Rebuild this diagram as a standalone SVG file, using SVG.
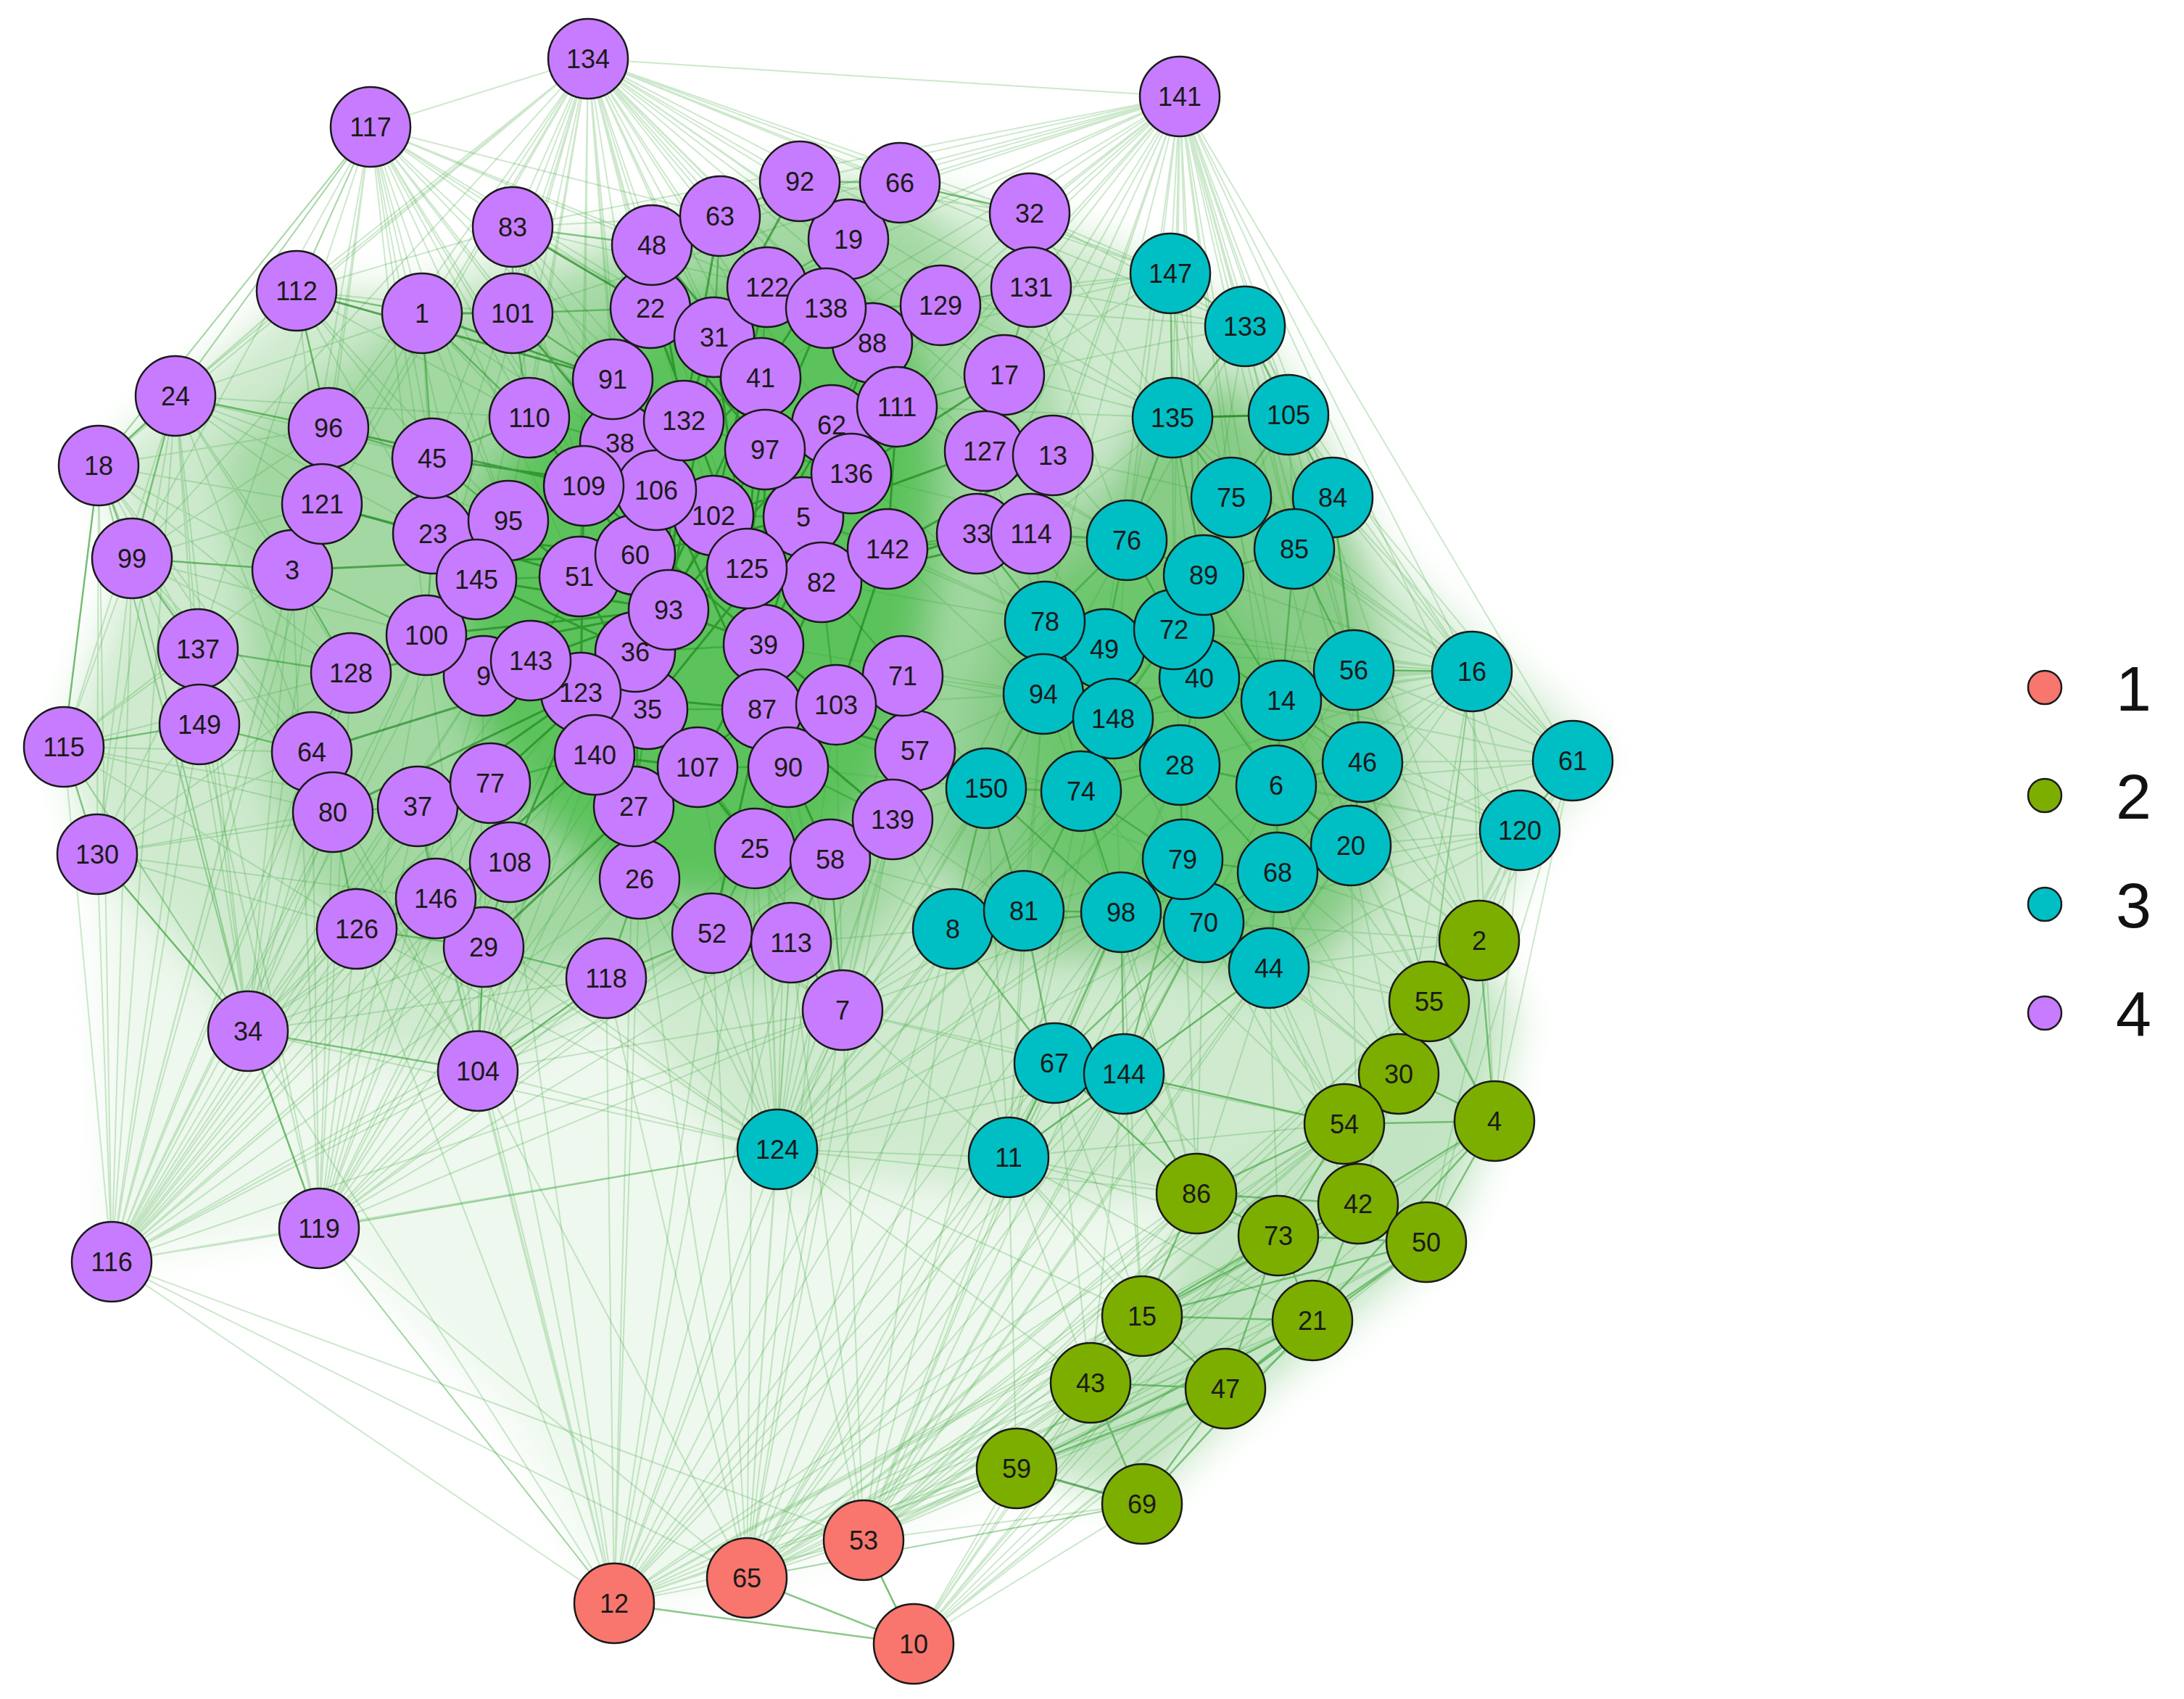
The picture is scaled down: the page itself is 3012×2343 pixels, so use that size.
<svg xmlns="http://www.w3.org/2000/svg" width="3012" height="2343" viewBox="0 0 3012 2343">
<defs>
<filter id="soft" x="-10%" y="-10%" width="120%" height="120%"><feGaussianBlur stdDeviation="28"/></filter>
</defs>
<style>
.bg{fill:#ffffff}
.hz{stroke:none}
.e1{fill:none;stroke:#3ea83e;stroke-opacity:.26;stroke-width:2}
.e2{fill:none;stroke:#2a9a2a;stroke-opacity:.55;stroke-width:2.5}
.e3{fill:none;stroke:#137f13;stroke-opacity:.6;stroke-width:3}
.n circle{stroke:#1a1a1a;stroke-width:2.5}
.n text{font-family:"Liberation Sans",Arial,sans-serif;font-size:36px;fill:#1a1a1a;text-anchor:middle}
.c1 circle{fill:#F8766D}
.c2 circle{fill:#7CAE00}
.c3 circle{fill:#00BFC4}
.c4 circle{fill:#C77CFF}
.lg circle{stroke:#1a1a1a;stroke-width:2.5}
.lg text{font-family:"Liberation Sans",Arial,sans-serif;font-size:88px;fill:#111}
</style>
<rect class="bg" x="0" y="0" width="3012" height="2343"/>
<g id="connectors">
<g id="edge-haze" filter="url(#soft)">
<polygon class="hz" fill="#eef8ee" points="154,1740 440,1694 700,1950 847,2211 1030,2176 1191,2124 1402,2025 1504,1907 1575,1815 1650,1646 1391,1596 1072,1585 836,1349 659,1477 342,1422 134,1178"/>
<polygon class="hz" fill="#cfeacf" points="136,642 242,546 409,401 582,400 707,340 899,320 993,290 1103,260 1241,262 1420,300 1614,370 1717,440 1777,520 1838,640 1900,760 2030,880 2169,1000 2210,1049 2150,1110 2096,1200 2040,1297 1971,1381 1929,1481 1854,1550 1650,1646 1391,1650 1200,1620 1072,1640 900,1450 836,1380 659,1477 342,1422 134,1178 88,1030 182,770"/>
<polygon class="hz" fill="#a3d8a3" points="300,620 420,540 560,440 700,420 830,360 980,290 1120,250 1260,270 1330,360 1440,470 1480,650 1470,850 1420,1000 1330,1150 1250,1250 1150,1350 1000,1340 850,1330 700,1340 560,1310 440,1250 380,1120 340,960 330,800"/>
<polygon class="hz" fill="#5cc25c" points="830,480 930,420 1050,380 1180,400 1270,480 1300,620 1290,800 1270,960 1220,1100 1120,1220 980,1250 850,1220 740,1130 650,1000 620,840 650,700 740,570"/>
<polygon class="hz" fill="#88cc88" points="1400,790 1500,700 1590,560 1700,520 1820,640 1880,780 1920,950 1930,1120 1880,1260 1780,1360 1650,1330 1500,1320 1340,1310 1300,1150 1330,950"/>
<polygon class="hz" fill="#6cc66c" points="1420,830 1520,760 1640,760 1720,880 1800,950 1840,1080 1800,1230 1700,1290 1560,1260 1430,1200 1400,1000"/>
<polygon class="hz" fill="#c2e4c2" points="2040,1297 2090,1400 2061,1546 1990,1713 1810,1860 1690,1960 1575,2074 1402,2025 1504,1907 1575,1815 1650,1646 1854,1550 1929,1481 1971,1381"/>
</g>
<path class="e1" d="M811 81L511 175M811 81L707 313M811 81L409 401M811 81L582 432M811 81L707 432M811 81L899 338M811 81L993 298M811 81L1103 250M811 81L1241 252M811 81L1170 330M811 81L897 425M811 81L1058 396M811 81L985 465M811 81L845 523M811 81L730 576M811 81L453 590M811 81L596 632M811 81L242 546M811 81L444 695M811 81L597 736M811 81L701 718M811 81L805 670M811 81L855 611M811 81L943 580M811 81L1049 521M811 81L1139 425M811 81L1203 473M811 81L1297 421M811 81L1420 294M811 81L1422 396M811 81L1627 133M811 81L1614 377M811 81L1385 517M811 81L1237 561M811 81L1147 586M811 81L1055 620M811 81L905 676M811 81L876 765M811 81L799 795M811 81L657 799M811 81L403 786M811 81L136 642M811 81L182 770M811 81L984 711M811 81L1717 450M811 81L1358 622M811 81L1452 628M811 81L1174 653M811 81L1108 713M811 81L1030 784M811 81L588 876M811 81L1617 576"/>
<path class="e1" d="M511 175L707 313M511 175L409 401M511 175L582 432M511 175L707 432M511 175L899 338M511 175L897 425M511 175L845 523M511 175L730 576M511 175L453 590M511 175L596 632M511 175L242 546M511 175L136 642M511 175L444 695M511 175L597 736M511 175L701 718M511 175L403 786M511 175L993 298M511 175L1058 396M511 175L985 465M511 175L855 611M511 175L805 670M511 175L943 580M511 175L182 770M511 175L657 799M511 175L588 876M511 175L799 795M511 175L876 765M511 175L273 895"/>
<path class="e1" d="M1627 133L1103 250M1627 133L1241 252M1627 133L1170 330M1627 133L1420 294M1627 133L1422 396M1627 133L1614 377M1627 133L1717 450M1627 133L1617 576M1627 133L1777 572M1627 133L1838 686M1627 133L1698 686M1627 133L1785 757M1627 133L2030 926M1627 133L2169 1049M1627 133L2096 1145M1627 133L1297 421M1627 133L1385 517M1627 133L1203 473M1627 133L1058 396M1627 133L993 298M1627 133L899 338M1627 133L1452 628M1627 133L1358 622M1627 133L1554 745M1627 133L1867 924M1627 133L1879 1051M1627 133L1767 966M1627 133L1139 425M1627 133L1237 561M1627 133L1422 736M1627 133L1347 736M1627 133L1660 793M1627 133L1619 868M1627 133L1654 935M1627 133L2040 1297M1627 133L1971 1381M1627 133L1147 586M1627 133L1174 653M1627 133L707 313M1627 133L707 432M1627 133L1863 1166M1627 133L1760 1083M1627 133L1441 857M1627 133L1523 895M1627 133L1049 521"/>
<path class="e1" d="M154 1740L88 1030M154 1740L134 1178M154 1740L342 1422M154 1740L440 1694M154 1740L136 642M154 1740L182 770M154 1740L273 895M154 1740L275 999M154 1740L242 546M154 1740L430 1037M154 1740L459 1120M154 1740L492 1281M154 1740L601 1239M154 1740L667 1306M154 1740L659 1477M154 1740L576 1112M154 1740L484 928M154 1740L403 786M154 1740L444 695M154 1740L588 876M154 1740L667 932M154 1740L657 799M154 1740L847 2211M154 1740L1030 2176M154 1740L676 1080M154 1740L703 1189M154 1740L836 1349M154 1740L882 1212M154 1740L982 1287M154 1740L820 1041M154 1740L874 1112M154 1740L1072 1585M154 1740L453 590M154 1740L732 911M154 1740L801 955M154 1740L1191 2124M154 1740L1162 1393"/>
<path class="e1" d="M440 1694L342 1422M440 1694L659 1477M440 1694L836 1349M440 1694L667 1306M440 1694L492 1281M440 1694L601 1239M440 1694L576 1112M440 1694L459 1120M440 1694L430 1037M440 1694L484 928M440 1694L275 999M440 1694L273 895M440 1694L667 932M440 1694L588 876M440 1694L676 1080M440 1694L703 1189M440 1694L403 786M440 1694L882 1212M440 1694L874 1112M440 1694L820 1041M440 1694L982 1287M440 1694L1091 1300M440 1694L1162 1393M440 1694L1072 1585M440 1694L847 2211M440 1694L1030 2176M440 1694L893 978M440 1694L801 955M440 1694L1041 1170M440 1694L1145 1185"/>
<path class="e1" d="M342 1422L134 1178M342 1422L88 1030M342 1422L275 999M342 1422L273 895M342 1422L182 770M342 1422L242 546M342 1422L136 642M342 1422L430 1037M342 1422L459 1120M342 1422L492 1281M342 1422L601 1239M342 1422L484 928M342 1422L403 786M342 1422L444 695M342 1422L667 1306M342 1422L576 1112M342 1422L588 876M342 1422L667 932M342 1422L676 1080M342 1422L703 1189M342 1422L836 1349"/>
<path class="e1" d="M847 2211L1191 2124M847 2211L1402 2025M847 2211L1504 1907M847 2211L1575 1815M847 2211L1575 2074M847 2211L1650 1646M847 2211L1690 1915M847 2211L1810 1821M847 2211L659 1477M847 2211L836 1349M847 2211L667 1306M847 2211L492 1281M847 2211L601 1239M847 2211L1072 1585M847 2211L342 1422M847 2211L440 1694M847 2211L982 1287M847 2211L882 1212M847 2211L1091 1300M847 2211L1162 1393M847 2211L1391 1596M847 2211L1454 1466M847 2211L1550 1481M847 2211L1314 1281M847 2211L1412 1256M847 2211L1546 1258M847 2211L1763 1704M847 2211L1854 1550M847 2211L1873 1660M847 2211L703 1189M847 2211L576 1112M847 2211L874 1112M847 2211L1041 1170"/>
<path class="e1" d="M1030 2176L1191 2124M1030 2176L1402 2025M1030 2176L1504 1907M1030 2176L1575 1815M1030 2176L1650 1646M1030 2176L1575 2074M1030 2176L1690 1915M1030 2176L1810 1821M1030 2176L1763 1704M1030 2176L1873 1660M1030 2176L1854 1550M1030 2176L1929 1481M1030 2176L836 1349M1030 2176L1162 1393M1030 2176L982 1287M1030 2176L1091 1300M1030 2176L882 1212M1030 2176L659 1477M1030 2176L1072 1585M1030 2176L1391 1596M1030 2176L1454 1466M1030 2176L1550 1481M1030 2176L1314 1281M1030 2176L1412 1256M1030 2176L1546 1258M1030 2176L1660 1272M1030 2176L1750 1335M1030 2176L1145 1185M1030 2176L1041 1170M1030 2176L1231 1130M1030 2176L1967 1713M1030 2176L1971 1381"/>
<path class="e1" d="M1191 2124L1260 2267M1191 2124L1402 2025M1191 2124L1575 2074M1191 2124L1504 1907M1191 2124L1575 1815M1191 2124L1650 1646M1191 2124L1690 1915M1191 2124L1810 1821M1191 2124L1763 1704M1191 2124L1873 1660M1191 2124L1967 1713M1191 2124L1854 1550M1191 2124L1929 1481M1191 2124L1971 1381M1191 2124L2040 1297M1191 2124L2061 1546M1191 2124L1072 1585M1191 2124L1391 1596M1191 2124L1454 1466M1191 2124L1550 1481M1191 2124L1546 1258M1191 2124L1660 1272M1191 2124L1750 1335M1191 2124L1631 1185M1191 2124L1762 1203M1191 2124L1863 1166M1191 2124L1162 1393M1191 2124L1091 1300M1191 2124L1412 1256M1191 2124L1314 1281"/>
<path class="e1" d="M1260 2267L1575 2074M1260 2267L1690 1915M1260 2267L1810 1821M1260 2267L1967 1713M1260 2267L2061 1546M1260 2267L1402 2025M1260 2267L1504 1907M1260 2267L1575 1815M1260 2267L1763 1704M1260 2267L1873 1660M1260 2267L1854 1550M1260 2267L1929 1481M1260 2267L1650 1646"/>
<path class="e1" d="M1072 1585L1162 1393M1072 1585L1091 1300M1072 1585L982 1287M1072 1585L1145 1185M1072 1585L1041 1170M1072 1585L1231 1130M1072 1585L1262 1035M1072 1585L1087 1058M1072 1585L836 1349M1072 1585L882 1212M1072 1585L659 1477M1072 1585L1314 1281M1072 1585L1412 1256M1072 1585L1360 1087M1072 1585L1391 1596M1072 1585L1454 1466M1072 1585L1550 1481M1072 1585L1546 1258M1072 1585L1491 1091M1072 1585L342 1422M1072 1585L440 1694M1072 1585L492 1281M1072 1585L667 1306M1072 1585L601 1239M1072 1585L962 1058M1072 1585L874 1112M1072 1585L1051 978M1072 1585L1153 972M1072 1585L1245 932M1072 1585L1053 889M1072 1585L1439 957M1072 1585L1441 857M1072 1585L1535 991M1072 1585L1627 1055M1072 1585L1631 1185M1072 1585L1660 1272M1072 1585L1650 1646M1072 1585L1575 1815M1072 1585L1504 1907"/>
<path class="e1" d="M659 1477L667 1306M659 1477L601 1239M659 1477L492 1281M659 1477L703 1189M659 1477L676 1080M659 1477L576 1112M659 1477L836 1349M659 1477L882 1212M659 1477L874 1112M659 1477L820 1041M659 1477L1162 1393M659 1477L982 1287M659 1477L1091 1300M659 1477L667 932M659 1477L588 876M659 1477L801 955M659 1477L893 978M659 1477L459 1120M659 1477L430 1037"/>
<path class="e1" d="M1391 1596L1454 1466M1391 1596L1550 1481M1391 1596L1314 1281M1391 1596L1412 1256M1391 1596L1546 1258M1391 1596L1650 1646M1391 1596L1575 1815M1391 1596L1504 1907M1391 1596L1854 1550M1391 1596L1763 1704M1391 1596L1810 1821M1391 1596L1660 1272M1391 1596L1631 1185M1391 1596L1750 1335M1391 1596L1491 1091M1391 1596L1360 1087M1391 1596L1439 957M1391 1596L1535 991M1391 1596L1627 1055M1391 1596L1162 1393M1391 1596L1402 2025M1391 1596L1690 1915"/>
<path class="e1" d="M1162 1393L1091 1300M1162 1393L1145 1185M1162 1393L1041 1170M1162 1393L1231 1130M1162 1393L1262 1035M1162 1393L982 1287M1162 1393L882 1212M1162 1393L1087 1058M1162 1393L1314 1281M1162 1393L1412 1256M1162 1393L1360 1087M1162 1393L1454 1466M1162 1393L1550 1481M1162 1393L1546 1258M1162 1393L1491 1091M1162 1393L1153 972M1162 1393L1245 932M1162 1393L1051 978M1162 1393L1053 889M1162 1393L962 1058"/>
<path class="e1" d="M2040 1297L2096 1145M2040 1297L2169 1049M2040 1297L2030 926M2040 1297L1863 1166M2040 1297L1879 1051M2040 1297L1750 1335M2040 1297L1762 1203M2040 1297L1760 1083M2040 1297L1767 966M2040 1297L1867 924M2040 1297L1660 1272M1971 1381L2096 1145M1971 1381L2169 1049M1971 1381L2030 926M1971 1381L1863 1166M1971 1381L1879 1051M1971 1381L1750 1335M1971 1381L1762 1203M1971 1381L1760 1083M1971 1381L1660 1272M1929 1481L1750 1335M1929 1481L1762 1203M1929 1481L1863 1166M1929 1481L2096 1145M1929 1481L2030 926M1929 1481L1660 1272M1929 1481L1631 1185M1929 1481L1873 1660M2061 1546L2169 1049M2061 1546L2096 1145M2061 1546L2030 926M2061 1546L1863 1166M1854 1550L1750 1335M1854 1550L1660 1272M1854 1550L1762 1203M1854 1550L1631 1185M1854 1550L1546 1258M1854 1550L1550 1481M1854 1550L1454 1466M1650 1646L1454 1466M1650 1646L1550 1481M1650 1646L1546 1258M1650 1646L1660 1272M1650 1646L1631 1185M1650 1646L1627 1055M1650 1646L1491 1091M1650 1646L1750 1335M1967 1713L2169 1049M1967 1713L2096 1145M1873 1660L1750 1335M1873 1660L1660 1272M1873 1660L1863 1166M1763 1704L1750 1335M1763 1704L1550 1481M1575 1815L1454 1466M1575 1815L1550 1481M1575 1815L1546 1258M1504 1907L1454 1466M1504 1907L1550 1481"/>
<path class="e1" d="M2030 926L2169 1049M2030 926L2096 1145M2030 926L1867 924M2030 926L1879 1051M2030 926L1767 966M2030 926L1863 1166M2030 926L1760 1083M2030 926L1785 757M2030 926L1838 686M2030 926L1971 1381M2030 926L1654 935M2030 926L1619 868M2030 926L1660 793M2030 926L1627 1055M2030 926L1762 1203M2030 926L1777 572M2030 926L1698 686M2030 926L1717 450M2030 926L1617 576M2030 926L1535 991M2030 926L1439 957M2030 926L1441 857M2030 926L1523 895M2169 1049L1838 686M2169 1049L1867 924M2169 1049L1879 1051M2169 1049L1863 1166M2169 1049L1760 1083M2169 1049L1767 966M2169 1049L1785 757M2169 1049L1777 572M2096 1145L1867 924M2096 1145L1879 1051M2096 1145L1863 1166M2096 1145L1760 1083M2096 1145L1767 966M2096 1145L1762 1203M2096 1145L1750 1335M2096 1145L1660 1272M2096 1145L1627 1055"/>
<path class="e1" d="M1422 736L1554 745M1422 736L1441 857M1422 736L1617 576M1422 736L1660 793M1422 736L1523 895M1347 736L1441 857M1347 736L1439 957M1347 736L1554 745M1452 628L1617 576M1452 628L1554 745M1452 628L1698 686M1358 622L1554 745M1358 622L1441 857M1385 517L1614 377M1385 517L1617 576M1385 517L1717 450M1422 396L1614 377M1422 396L1717 450M1420 294L1614 377M1297 421L1614 377M1297 421L1617 576M1224 757L1441 857M1224 757L1439 957M1224 757L1554 745M1133 803L1441 857M1245 932L1439 957M1245 932L1441 857M1245 932L1535 991M1245 932L1360 1087M1262 1035L1360 1087M1262 1035L1439 957M1262 1035L1491 1091M1231 1130L1360 1087M1231 1130L1314 1281M1231 1130L1412 1256M1153 972L1439 957M1153 972L1360 1087M1174 653L1441 857M1174 653L1554 745M1108 713L1441 857M1237 561L1617 576M1237 561L1554 745M1145 1185L1314 1281M1145 1185L1412 1256M1091 1300L1314 1281M1087 1058L1360 1087M1051 978L1360 1087M1053 889L1439 957M1203 473L1614 377M1241 252L1614 377M1241 252L1420 294M1103 250L1420 294M1420 294L1717 450M1420 294L1617 576M1422 396L1617 576M1422 396L1554 745M1297 421L1717 450"/>
<path class="e1" d="M136 642L88 1030M136 642L134 1178M182 770L88 1030M182 770L134 1178M242 546L134 1178M242 546L88 1030M273 895L134 1178M275 999L134 1178M88 1030L342 1422M136 642L342 1422M182 770L342 1422M242 546L409 401M242 546L511 175M136 642L511 175M409 401L511 175M409 401L707 313M136 642L409 401M242 546L453 590M242 546L444 695M242 546L403 786M242 546L596 632M242 546L597 736M242 546L582 432M242 546L730 576M242 546L701 718M242 546L273 895M242 546L484 928M242 546L430 1037M242 546L275 999M136 642L403 786M136 642L444 695M136 642L273 895M136 642L275 999M136 642L453 590M136 642L484 928M136 642L430 1037M136 642L459 1120M182 770L403 786M182 770L484 928M182 770L430 1037M182 770L459 1120M182 770L444 695M182 770L453 590M182 770L588 876M88 1030L273 895M88 1030L403 786M88 1030L484 928M88 1030L430 1037M88 1030L459 1120M88 1030L576 1112M88 1030L492 1281M134 1178L430 1037M134 1178L459 1120M134 1178L492 1281M134 1178L601 1239M134 1178L484 928M134 1178L576 1112M409 401L453 590M409 401L444 695M409 401L596 632M409 401L730 576M409 401L707 432M409 401L845 523M409 401L597 736M409 401L701 718M707 313L897 425M707 313L845 523M707 313L730 576M707 313L943 580M707 313L985 465M707 313L993 298M707 313L1058 396M707 313L855 611M707 313L805 670M582 432L453 590M582 432L444 695M582 432L597 736M582 432L701 718M582 432L805 670M582 432L855 611"/>
<path class="e1" d="M1614 377L1660 793M1614 377L1554 745M1614 377L1698 686M1717 450L1838 686M1717 450L1785 757M1717 450L1660 793M1717 450L1554 745M1617 576L1785 757M1617 576L1619 868M1617 576L1654 935M1777 572L1785 757M1777 572L1660 793M1777 572L1867 924M1838 686L1767 966M1838 686L1879 1051M1698 686L1619 868M1698 686L1767 966M1554 745L1439 957M1554 745L1535 991M1554 745L1654 935M1660 793L1535 991M1660 793L1627 1055M1441 857L1491 1091M1441 857L1360 1087M1441 857L1627 1055M1619 868L1627 1055M1619 868L1760 1083M1523 895L1491 1091M1523 895L1654 935M1523 895L1627 1055M1439 957L1491 1091M1439 957L1412 1256M1439 957L1314 1281M1535 991L1631 1185M1535 991L1546 1258M1654 935L1631 1185M1654 935L1879 1051M1767 966L1863 1166M1767 966L1762 1203M1867 924L1863 1166M1867 924L1760 1083M1879 1051L1762 1203M1760 1083L1631 1185M1760 1083L1660 1272M1760 1083L1750 1335M1627 1055L1660 1272M1627 1055L1546 1258M1627 1055L1412 1256M1863 1166L1750 1335M1863 1166L1660 1272M1631 1185L1750 1335M1491 1091L1314 1281M1491 1091L1660 1272M1360 1087L1631 1185M1360 1087L1627 1055M1412 1256L1631 1185M1546 1258L1762 1203M1314 1281L1491 1091"/>
<path class="e2" d="M847 2211L1260 2267M1030 2176L1260 2267M1191 2124L1260 2267M342 1422L659 1477M440 1694L342 1422"/>
<path class="e2" d="M1614 377L1717 450M1614 377L1617 576M1717 450L1617 576M1717 450L1777 572M1617 576L1777 572M1617 576L1698 686M1617 576L1554 745M1617 576L1660 793M1777 572L1838 686M1777 572L1698 686M1698 686L1785 757M1698 686L1660 793M1838 686L1785 757M1785 757L1660 793M1554 745L1660 793M1554 745L1441 857M1554 745L1619 868M1554 745L1523 895M1660 793L1619 868M1619 868L1523 895M1619 868L1654 935M1523 895L1441 857M1523 895L1439 957M1523 895L1535 991M1441 857L1439 957M1439 957L1535 991M1439 957L1360 1087M1535 991L1491 1091M1535 991L1627 1055M1535 991L1654 935M1654 935L1767 966M1654 935L1627 1055M1767 966L1867 924M1767 966L1760 1083M1767 966L1879 1051M1867 924L1879 1051M1879 1051L1760 1083M1879 1051L1863 1166M1760 1083L1627 1055M1760 1083L1762 1203M1760 1083L1863 1166M1627 1055L1631 1185M1627 1055L1491 1091M1631 1185L1762 1203M1631 1185L1660 1272M1762 1203L1660 1272M1762 1203L1863 1166M1762 1203L1750 1335M1660 1272L1750 1335M1660 1272L1546 1258M1546 1258L1412 1256M1412 1256L1314 1281M1412 1256L1360 1087M1314 1281L1360 1087M1491 1091L1360 1087M1491 1091L1412 1256M1491 1091L1546 1258M1631 1185L1546 1258M1454 1466L1412 1256M1550 1481L1546 1258M1550 1481L1660 1272M1454 1466L1314 1281M1391 1596L1454 1466M1391 1596L1550 1481M1785 757L1767 966M1660 793L1654 935M1441 857L1535 991M1619 868L1535 991M1654 935L1760 1083M1867 924L2030 926M1554 745L1422 736M1441 857L1347 736M2169 1049L2096 1145M1838 686L1867 924M1785 757L1867 924M1660 793L1767 966M1619 868L1767 966M1627 1055L1762 1203M1491 1091L1631 1185M1360 1087L1546 1258M1314 1281L1546 1258M1454 1466L1546 1258M1550 1481L1631 1185M1550 1481L1750 1335M1454 1466L1660 1272M1550 1481L1650 1646M1550 1481L1854 1550M1454 1466L1650 1646"/>
<path class="e3" d="M1454 1466L1550 1481M1402 2025L1575 2074M582 432L707 432M1617 576L1777 572"/>
<path class="e2" d="M2040 1297L1971 1381M1971 1381L1929 1481M1929 1481L1854 1550M1929 1481L2061 1546M1854 1550L2061 1546M1854 1550L1873 1660M1873 1660L2061 1546M1873 1660L1967 1713M2061 1546L1967 1713M1873 1660L1763 1704M1763 1704L1967 1713M1763 1704L1810 1821M1967 1713L1810 1821M1650 1646L1763 1704M1650 1646L1575 1815M1575 1815L1810 1821M1575 1815L1504 1907M1575 1815L1690 1915M1810 1821L1690 1915M1504 1907L1690 1915M1504 1907L1402 2025M1690 1915L1575 2074M1504 1907L1575 2074M1650 1646L1854 1550M1650 1646L1873 1660M1810 1821L1873 1660M1763 1704L1575 1815M1763 1704L1690 1915M1971 1381L1854 1550M1971 1381L2061 1546M2040 1297L2061 1546M2040 1297L1929 1481M1810 1821L1575 2074M1967 1713L1690 1915M1854 1550L1763 1704M2061 1546L1810 1821M1967 1713L1575 1815M1873 1660L1575 1815M1402 2025L1690 1915M1402 2025L1810 1821"/>
<path class="e2" d="M707 313L707 432M707 313L899 338M707 432L897 425M707 432L845 523M707 432L730 576M582 432L596 632M582 432L730 576M409 401L453 590M409 401L582 432M242 546L136 642M242 546L182 770M242 546L453 590M136 642L182 770M182 770L273 895M182 770L403 786M273 895L275 999M273 895L484 928M275 999L430 1037M275 999L88 1030M88 1030L134 1178M88 1030L136 642M134 1178L342 1422M453 590L444 695M453 590L596 632M444 695L403 786M444 695L597 736M403 786L484 928M403 786L588 876M596 632L597 736M596 632L730 576M596 632L701 718M597 736L701 718M597 736L657 799M597 736L588 876M701 718L657 799M701 718L805 670M657 799L799 795M657 799L588 876M588 876L667 932M588 876L484 928M667 932L732 911M667 932L801 955M484 928L430 1037M430 1037L459 1120M459 1120L576 1112M459 1120L492 1281M576 1112L676 1080M576 1112L601 1239M676 1080L703 1189M676 1080L820 1041M703 1189L601 1239M703 1189L667 1306M601 1239L492 1281M601 1239L667 1306M492 1281L667 1306M667 1306L836 1349M836 1349L882 1212M882 1212L874 1112M882 1212L982 1287M982 1287L1091 1300M1091 1300L1145 1185M1145 1185L1041 1170M1041 1170L1087 1058M1145 1185L1231 1130M1231 1130L1262 1035M1262 1035L1245 932M1245 932L1153 972M1153 972L1087 1058M1087 1058L962 1058M962 1058L874 1112M874 1112L820 1041M820 1041L801 955M801 955L893 978M893 978L876 899M893 978L962 1058M876 899L922 841M876 899L1053 889M922 841L876 765M876 765L799 795M799 795L805 670M799 795L732 911M805 670L905 676M805 670L855 611M855 611L730 576M855 611L845 523M845 523L897 425M845 523L943 580M897 425L899 338M897 425L985 465M899 338L993 298M993 298L1103 250M993 298L985 465M993 298L1058 396M1103 250L1170 330M1103 250L1241 252M1241 252L1170 330M1170 330L1058 396M1170 330L1139 425M1058 396L985 465M1058 396L1049 521M1058 396L1139 425M1139 425L1203 473M1139 425L1297 421M1203 473L1297 421M1203 473L1237 561M1203 473L1147 586M1237 561L1147 586M1237 561L1385 517M1237 561L1174 653M1385 517L1358 622M1385 517L1422 396M1422 396L1420 294M1422 396L1297 421M1420 294L1241 252M1358 622L1452 628M1358 622L1347 736M1452 628L1422 736M1347 736L1422 736M1347 736L1224 757M1422 736L1224 757M1174 653L1224 757M1174 653L1108 713M1174 653L1055 620M1147 586L1055 620M1055 620L1049 521M1049 521L985 465M1049 521L943 580M943 580L855 611M943 580L905 676M943 580L1055 620M905 676L984 711M905 676L876 765M984 711L1055 620M984 711L1108 713M984 711L1030 784M1108 713L1030 784M1108 713L1133 803M1108 713L1224 757M1133 803L1030 784M1133 803L1224 757M1133 803L1053 889M1133 803L1153 972M1030 784L922 841M1030 784L1053 889M1053 889L1051 978M1051 978L1153 972M1051 978L1087 1058M1051 978L962 1058M1051 978L893 978M922 841L984 711M876 765L984 711M876 899L801 955M732 911L801 955M732 911L799 795M820 1041L893 978M1245 932L1133 803M1262 1035L1153 972M1231 1130L1087 1058M1041 1170L962 1058M882 1212L820 1041M874 1112L893 978M982 1287L1041 1170M1162 1393L1091 1300M1162 1393L1145 1185M836 1349L982 1287M659 1477L667 1306M659 1477L836 1349"/>
<path class="e3" d="M897 425L1030 784M985 465L922 841M845 523L1051 978M943 580L893 978M1049 521L876 899M805 670L1053 889M905 676L1133 803M876 765L1108 713M855 611L1030 784M799 795L1053 889M732 911L922 841M801 955L1051 978M893 978L1108 713M876 899L1055 620M922 841L1147 586M984 711L1174 653M897 425L1055 620M899 338L1049 521M993 298L943 580M1058 396L984 711M1139 425L1055 620M1203 473L1108 713M1237 561L1224 757M1147 586L1133 803M1055 620L1030 784M1049 521L905 676M985 465L905 676M845 523L876 765M730 576L876 765M701 718L799 795M657 799L876 899M667 932L876 899M588 876L922 841M597 736L876 765M596 632L905 676M676 1080L876 899M820 1041L922 841M874 1112L1051 978M962 1058L1053 889M1087 1058L1053 889M1153 972L1053 889M1245 932L1051 978M1262 1035L1051 978M1231 1130L1051 978M1041 1170L893 978M1145 1185L1087 1058M882 1212L876 899M982 1287L1051 978M703 1189L801 955M576 1112L801 955M601 1239L820 1041M667 1306L874 1112M459 1120L801 955M430 1037L876 899M484 928L922 841M403 786L876 765M444 695L799 795M453 590L805 670M409 401L845 523M582 432L845 523M707 432L855 611M707 313L897 425M899 338L943 580M1103 250L985 465M1170 330L1049 521M1241 252L1139 425M1297 421L1147 586M1385 517L1174 653M1358 622L1108 713M1452 628L1224 757M1347 736L1133 803M1422 736L1133 803M1224 757L1153 972M1174 653L1053 889M985 465L1030 784M943 580L922 841M855 611L876 899M805 670L801 955M876 765L893 978M799 795L893 978M984 711L1053 889M1055 620L1051 978M1049 521L1030 784M1147 586L1030 784M1108 713L1053 889M1133 803L1051 978M801 955L962 1058M820 1041L962 1058M732 911L876 899M657 799L922 841"/>
</g>
<g id="nodes">
<g id="n1" class="n c4"><circle cx="582" cy="432" r="55"/><text x="582" y="445">1</text></g>
<g id="n2" class="n c2"><circle cx="2040" cy="1297" r="55"/><text x="2040" y="1310">2</text></g>
<g id="n3" class="n c4"><circle cx="403" cy="786" r="55"/><text x="403" y="799">3</text></g>
<g id="n4" class="n c2"><circle cx="2061" cy="1546" r="55"/><text x="2061" y="1559">4</text></g>
<g id="n5" class="n c4"><circle cx="1108" cy="713" r="55"/><text x="1108" y="726">5</text></g>
<g id="n6" class="n c3"><circle cx="1760" cy="1083" r="55"/><text x="1760" y="1096">6</text></g>
<g id="n7" class="n c4"><circle cx="1162" cy="1393" r="55"/><text x="1162" y="1406">7</text></g>
<g id="n8" class="n c3"><circle cx="1314" cy="1281" r="55"/><text x="1314" y="1294">8</text></g>
<g id="n9" class="n c4"><circle cx="667" cy="932" r="55"/><text x="667" y="945">9</text></g>
<g id="n10" class="n c1"><circle cx="1260" cy="2267" r="55"/><text x="1260" y="2280">10</text></g>
<g id="n11" class="n c3"><circle cx="1391" cy="1596" r="55"/><text x="1391" y="1609">11</text></g>
<g id="n12" class="n c1"><circle cx="847" cy="2211" r="55"/><text x="847" y="2224">12</text></g>
<g id="n14" class="n c3"><circle cx="1767" cy="966" r="55"/><text x="1767" y="979">14</text></g>
<g id="n15" class="n c2"><circle cx="1575" cy="1815" r="55"/><text x="1575" y="1828">15</text></g>
<g id="n16" class="n c3"><circle cx="2030" cy="926" r="55"/><text x="2030" y="939">16</text></g>
<g id="n17" class="n c4"><circle cx="1385" cy="517" r="55"/><text x="1385" y="530">17</text></g>
<g id="n18" class="n c4"><circle cx="136" cy="642" r="55"/><text x="136" y="655">18</text></g>
<g id="n19" class="n c4"><circle cx="1170" cy="330" r="55"/><text x="1170" y="343">19</text></g>
<g id="n20" class="n c3"><circle cx="1863" cy="1166" r="55"/><text x="1863" y="1179">20</text></g>
<g id="n21" class="n c2"><circle cx="1810" cy="1821" r="55"/><text x="1810" y="1834">21</text></g>
<g id="n22" class="n c4"><circle cx="897" cy="425" r="55"/><text x="897" y="438">22</text></g>
<g id="n23" class="n c4"><circle cx="597" cy="736" r="55"/><text x="597" y="749">23</text></g>
<g id="n24" class="n c4"><circle cx="242" cy="546" r="55"/><text x="242" y="559">24</text></g>
<g id="n25" class="n c4"><circle cx="1041" cy="1170" r="55"/><text x="1041" y="1183">25</text></g>
<g id="n26" class="n c4"><circle cx="882" cy="1212" r="55"/><text x="882" y="1225">26</text></g>
<g id="n27" class="n c4"><circle cx="874" cy="1112" r="55"/><text x="874" y="1125">27</text></g>
<g id="n28" class="n c3"><circle cx="1627" cy="1055" r="55"/><text x="1627" y="1068">28</text></g>
<g id="n29" class="n c4"><circle cx="667" cy="1306" r="55"/><text x="667" y="1319">29</text></g>
<g id="n30" class="n c2"><circle cx="1929" cy="1481" r="55"/><text x="1929" y="1494">30</text></g>
<g id="n31" class="n c4"><circle cx="985" cy="465" r="55"/><text x="985" y="478">31</text></g>
<g id="n32" class="n c4"><circle cx="1420" cy="294" r="55"/><text x="1420" y="307">32</text></g>
<g id="n33" class="n c4"><circle cx="1347" cy="736" r="55"/><text x="1347" y="749">33</text></g>
<g id="n34" class="n c4"><circle cx="342" cy="1422" r="55"/><text x="342" y="1435">34</text></g>
<g id="n35" class="n c4"><circle cx="893" cy="978" r="55"/><text x="893" y="991">35</text></g>
<g id="n36" class="n c4"><circle cx="876" cy="899" r="55"/><text x="876" y="912">36</text></g>
<g id="n37" class="n c4"><circle cx="576" cy="1112" r="55"/><text x="576" y="1125">37</text></g>
<g id="n38" class="n c4"><circle cx="855" cy="611" r="55"/><text x="855" y="624">38</text></g>
<g id="n39" class="n c4"><circle cx="1053" cy="889" r="55"/><text x="1053" y="902">39</text></g>
<g id="n40" class="n c3"><circle cx="1654" cy="935" r="55"/><text x="1654" y="948">40</text></g>
<g id="n41" class="n c4"><circle cx="1049" cy="521" r="55"/><text x="1049" y="534">41</text></g>
<g id="n42" class="n c2"><circle cx="1873" cy="1660" r="55"/><text x="1873" y="1673">42</text></g>
<g id="n43" class="n c2"><circle cx="1504" cy="1907" r="55"/><text x="1504" y="1920">43</text></g>
<g id="n44" class="n c3"><circle cx="1750" cy="1335" r="55"/><text x="1750" y="1348">44</text></g>
<g id="n45" class="n c4"><circle cx="596" cy="632" r="55"/><text x="596" y="645">45</text></g>
<g id="n46" class="n c3"><circle cx="1879" cy="1051" r="55"/><text x="1879" y="1064">46</text></g>
<g id="n47" class="n c2"><circle cx="1690" cy="1915" r="55"/><text x="1690" y="1928">47</text></g>
<g id="n48" class="n c4"><circle cx="899" cy="338" r="55"/><text x="899" y="351">48</text></g>
<g id="n49" class="n c3"><circle cx="1523" cy="895" r="55"/><text x="1523" y="908">49</text></g>
<g id="n50" class="n c2"><circle cx="1967" cy="1713" r="55"/><text x="1967" y="1726">50</text></g>
<g id="n51" class="n c4"><circle cx="799" cy="795" r="55"/><text x="799" y="808">51</text></g>
<g id="n52" class="n c4"><circle cx="982" cy="1287" r="55"/><text x="982" y="1300">52</text></g>
<g id="n53" class="n c1"><circle cx="1191" cy="2124" r="55"/><text x="1191" y="2137">53</text></g>
<g id="n54" class="n c2"><circle cx="1854" cy="1550" r="55"/><text x="1854" y="1563">54</text></g>
<g id="n55" class="n c2"><circle cx="1971" cy="1381" r="55"/><text x="1971" y="1394">55</text></g>
<g id="n56" class="n c3"><circle cx="1867" cy="924" r="55"/><text x="1867" y="937">56</text></g>
<g id="n57" class="n c4"><circle cx="1262" cy="1035" r="55"/><text x="1262" y="1048">57</text></g>
<g id="n58" class="n c4"><circle cx="1145" cy="1185" r="55"/><text x="1145" y="1198">58</text></g>
<g id="n59" class="n c2"><circle cx="1402" cy="2025" r="55"/><text x="1402" y="2038">59</text></g>
<g id="n60" class="n c4"><circle cx="876" cy="765" r="55"/><text x="876" y="778">60</text></g>
<g id="n61" class="n c3"><circle cx="2169" cy="1049" r="55"/><text x="2169" y="1062">61</text></g>
<g id="n62" class="n c4"><circle cx="1147" cy="586" r="55"/><text x="1147" y="599">62</text></g>
<g id="n63" class="n c4"><circle cx="993" cy="298" r="55"/><text x="993" y="311">63</text></g>
<g id="n64" class="n c4"><circle cx="430" cy="1037" r="55"/><text x="430" y="1050">64</text></g>
<g id="n65" class="n c1"><circle cx="1030" cy="2176" r="55"/><text x="1030" y="2189">65</text></g>
<g id="n66" class="n c4"><circle cx="1241" cy="252" r="55"/><text x="1241" y="265">66</text></g>
<g id="n67" class="n c3"><circle cx="1454" cy="1466" r="55"/><text x="1454" y="1479">67</text></g>
<g id="n68" class="n c3"><circle cx="1762" cy="1203" r="55"/><text x="1762" y="1216">68</text></g>
<g id="n69" class="n c2"><circle cx="1575" cy="2074" r="55"/><text x="1575" y="2087">69</text></g>
<g id="n70" class="n c3"><circle cx="1660" cy="1272" r="55"/><text x="1660" y="1285">70</text></g>
<g id="n71" class="n c4"><circle cx="1245" cy="932" r="55"/><text x="1245" y="945">71</text></g>
<g id="n72" class="n c3"><circle cx="1619" cy="868" r="55"/><text x="1619" y="881">72</text></g>
<g id="n73" class="n c2"><circle cx="1763" cy="1704" r="55"/><text x="1763" y="1717">73</text></g>
<g id="n74" class="n c3"><circle cx="1491" cy="1091" r="55"/><text x="1491" y="1104">74</text></g>
<g id="n75" class="n c3"><circle cx="1698" cy="686" r="55"/><text x="1698" y="699">75</text></g>
<g id="n76" class="n c3"><circle cx="1554" cy="745" r="55"/><text x="1554" y="758">76</text></g>
<g id="n77" class="n c4"><circle cx="676" cy="1080" r="55"/><text x="676" y="1093">77</text></g>
<g id="n78" class="n c3"><circle cx="1441" cy="857" r="55"/><text x="1441" y="870">78</text></g>
<g id="n79" class="n c3"><circle cx="1631" cy="1185" r="55"/><text x="1631" y="1198">79</text></g>
<g id="n80" class="n c4"><circle cx="459" cy="1120" r="55"/><text x="459" y="1133">80</text></g>
<g id="n81" class="n c3"><circle cx="1412" cy="1256" r="55"/><text x="1412" y="1269">81</text></g>
<g id="n82" class="n c4"><circle cx="1133" cy="803" r="55"/><text x="1133" y="816">82</text></g>
<g id="n83" class="n c4"><circle cx="707" cy="313" r="55"/><text x="707" y="326">83</text></g>
<g id="n84" class="n c3"><circle cx="1838" cy="686" r="55"/><text x="1838" y="699">84</text></g>
<g id="n85" class="n c3"><circle cx="1785" cy="757" r="55"/><text x="1785" y="770">85</text></g>
<g id="n86" class="n c2"><circle cx="1650" cy="1646" r="55"/><text x="1650" y="1659">86</text></g>
<g id="n87" class="n c4"><circle cx="1051" cy="978" r="55"/><text x="1051" y="991">87</text></g>
<g id="n88" class="n c4"><circle cx="1203" cy="473" r="55"/><text x="1203" y="486">88</text></g>
<g id="n89" class="n c3"><circle cx="1660" cy="793" r="55"/><text x="1660" y="806">89</text></g>
<g id="n90" class="n c4"><circle cx="1087" cy="1058" r="55"/><text x="1087" y="1071">90</text></g>
<g id="n91" class="n c4"><circle cx="845" cy="523" r="55"/><text x="845" y="536">91</text></g>
<g id="n92" class="n c4"><circle cx="1103" cy="250" r="55"/><text x="1103" y="263">92</text></g>
<g id="n93" class="n c4"><circle cx="922" cy="841" r="55"/><text x="922" y="854">93</text></g>
<g id="n94" class="n c3"><circle cx="1439" cy="957" r="55"/><text x="1439" y="970">94</text></g>
<g id="n95" class="n c4"><circle cx="701" cy="718" r="55"/><text x="701" y="731">95</text></g>
<g id="n96" class="n c4"><circle cx="453" cy="590" r="55"/><text x="453" y="603">96</text></g>
<g id="n97" class="n c4"><circle cx="1055" cy="620" r="55"/><text x="1055" y="633">97</text></g>
<g id="n98" class="n c3"><circle cx="1546" cy="1258" r="55"/><text x="1546" y="1271">98</text></g>
<g id="n99" class="n c4"><circle cx="182" cy="770" r="55"/><text x="182" y="783">99</text></g>
<g id="n100" class="n c4"><circle cx="588" cy="876" r="55"/><text x="588" y="889">100</text></g>
<g id="n101" class="n c4"><circle cx="707" cy="432" r="55"/><text x="707" y="445">101</text></g>
<g id="n102" class="n c4"><circle cx="984" cy="711" r="55"/><text x="984" y="724">102</text></g>
<g id="n103" class="n c4"><circle cx="1153" cy="972" r="55"/><text x="1153" y="985">103</text></g>
<g id="n104" class="n c4"><circle cx="659" cy="1477" r="55"/><text x="659" y="1490">104</text></g>
<g id="n105" class="n c3"><circle cx="1777" cy="572" r="55"/><text x="1777" y="585">105</text></g>
<g id="n106" class="n c4"><circle cx="905" cy="676" r="55"/><text x="905" y="689">106</text></g>
<g id="n107" class="n c4"><circle cx="962" cy="1058" r="55"/><text x="962" y="1071">107</text></g>
<g id="n108" class="n c4"><circle cx="703" cy="1189" r="55"/><text x="703" y="1202">108</text></g>
<g id="n109" class="n c4"><circle cx="805" cy="670" r="55"/><text x="805" y="683">109</text></g>
<g id="n110" class="n c4"><circle cx="730" cy="576" r="55"/><text x="730" y="589">110</text></g>
<g id="n111" class="n c4"><circle cx="1237" cy="561" r="55"/><text x="1237" y="574">111</text></g>
<g id="n112" class="n c4"><circle cx="409" cy="401" r="55"/><text x="409" y="414">112</text></g>
<g id="n113" class="n c4"><circle cx="1091" cy="1300" r="55"/><text x="1091" y="1313">113</text></g>
<g id="n114" class="n c4"><circle cx="1422" cy="736" r="55"/><text x="1422" y="749">114</text></g>
<g id="n115" class="n c4"><circle cx="88" cy="1030" r="55"/><text x="88" y="1043">115</text></g>
<g id="n116" class="n c4"><circle cx="154" cy="1740" r="55"/><text x="154" y="1753">116</text></g>
<g id="n117" class="n c4"><circle cx="511" cy="175" r="55"/><text x="511" y="188">117</text></g>
<g id="n118" class="n c4"><circle cx="836" cy="1349" r="55"/><text x="836" y="1362">118</text></g>
<g id="n119" class="n c4"><circle cx="440" cy="1694" r="55"/><text x="440" y="1707">119</text></g>
<g id="n120" class="n c3"><circle cx="2096" cy="1145" r="55"/><text x="2096" y="1158">120</text></g>
<g id="n121" class="n c4"><circle cx="444" cy="695" r="55"/><text x="444" y="708">121</text></g>
<g id="n122" class="n c4"><circle cx="1058" cy="396" r="55"/><text x="1058" y="409">122</text></g>
<g id="n123" class="n c4"><circle cx="801" cy="955" r="55"/><text x="801" y="968">123</text></g>
<g id="n124" class="n c3"><circle cx="1072" cy="1585" r="55"/><text x="1072" y="1598">124</text></g>
<g id="n125" class="n c4"><circle cx="1030" cy="784" r="55"/><text x="1030" y="797">125</text></g>
<g id="n126" class="n c4"><circle cx="492" cy="1281" r="55"/><text x="492" y="1294">126</text></g>
<g id="n127" class="n c4"><circle cx="1358" cy="622" r="55"/><text x="1358" y="635">127</text></g>
<g id="n13" class="n c4"><circle cx="1452" cy="628" r="55"/><text x="1452" y="641">13</text></g>
<g id="n128" class="n c4"><circle cx="484" cy="928" r="55"/><text x="484" y="941">128</text></g>
<g id="n129" class="n c4"><circle cx="1297" cy="421" r="55"/><text x="1297" y="434">129</text></g>
<g id="n130" class="n c4"><circle cx="134" cy="1178" r="55"/><text x="134" y="1191">130</text></g>
<g id="n131" class="n c4"><circle cx="1422" cy="396" r="55"/><text x="1422" y="409">131</text></g>
<g id="n132" class="n c4"><circle cx="943" cy="580" r="55"/><text x="943" y="593">132</text></g>
<g id="n133" class="n c3"><circle cx="1717" cy="450" r="55"/><text x="1717" y="463">133</text></g>
<g id="n134" class="n c4"><circle cx="811" cy="81" r="55"/><text x="811" y="94">134</text></g>
<g id="n135" class="n c3"><circle cx="1617" cy="576" r="55"/><text x="1617" y="589">135</text></g>
<g id="n136" class="n c4"><circle cx="1174" cy="653" r="55"/><text x="1174" y="666">136</text></g>
<g id="n137" class="n c4"><circle cx="273" cy="895" r="55"/><text x="273" y="908">137</text></g>
<g id="n138" class="n c4"><circle cx="1139" cy="425" r="55"/><text x="1139" y="438">138</text></g>
<g id="n139" class="n c4"><circle cx="1231" cy="1130" r="55"/><text x="1231" y="1143">139</text></g>
<g id="n140" class="n c4"><circle cx="820" cy="1041" r="55"/><text x="820" y="1054">140</text></g>
<g id="n141" class="n c4"><circle cx="1627" cy="133" r="55"/><text x="1627" y="146">141</text></g>
<g id="n142" class="n c4"><circle cx="1224" cy="757" r="55"/><text x="1224" y="770">142</text></g>
<g id="n143" class="n c4"><circle cx="732" cy="911" r="55"/><text x="732" y="924">143</text></g>
<g id="n144" class="n c3"><circle cx="1550" cy="1481" r="55"/><text x="1550" y="1494">144</text></g>
<g id="n145" class="n c4"><circle cx="657" cy="799" r="55"/><text x="657" y="812">145</text></g>
<g id="n146" class="n c4"><circle cx="601" cy="1239" r="55"/><text x="601" y="1252">146</text></g>
<g id="n147" class="n c3"><circle cx="1614" cy="377" r="55"/><text x="1614" y="390">147</text></g>
<g id="n148" class="n c3"><circle cx="1535" cy="991" r="55"/><text x="1535" y="1004">148</text></g>
<g id="n149" class="n c4"><circle cx="275" cy="999" r="55"/><text x="275" y="1012">149</text></g>
<g id="n150" class="n c3"><circle cx="1360" cy="1087" r="55"/><text x="1360" y="1100">150</text></g>
</g>
<g id="legend" class="lg">
<circle cx="2820" cy="948" r="23" fill="#F8766D"/>
<text x="2918" y="980">1</text>
<circle cx="2820" cy="1097" r="23" fill="#7CAE00"/>
<text x="2918" y="1129">2</text>
<circle cx="2820" cy="1247" r="23" fill="#00BFC4"/>
<text x="2918" y="1279">3</text>
<circle cx="2820" cy="1397" r="23" fill="#C77CFF"/>
<text x="2918" y="1429">4</text>
</g>
</svg>
